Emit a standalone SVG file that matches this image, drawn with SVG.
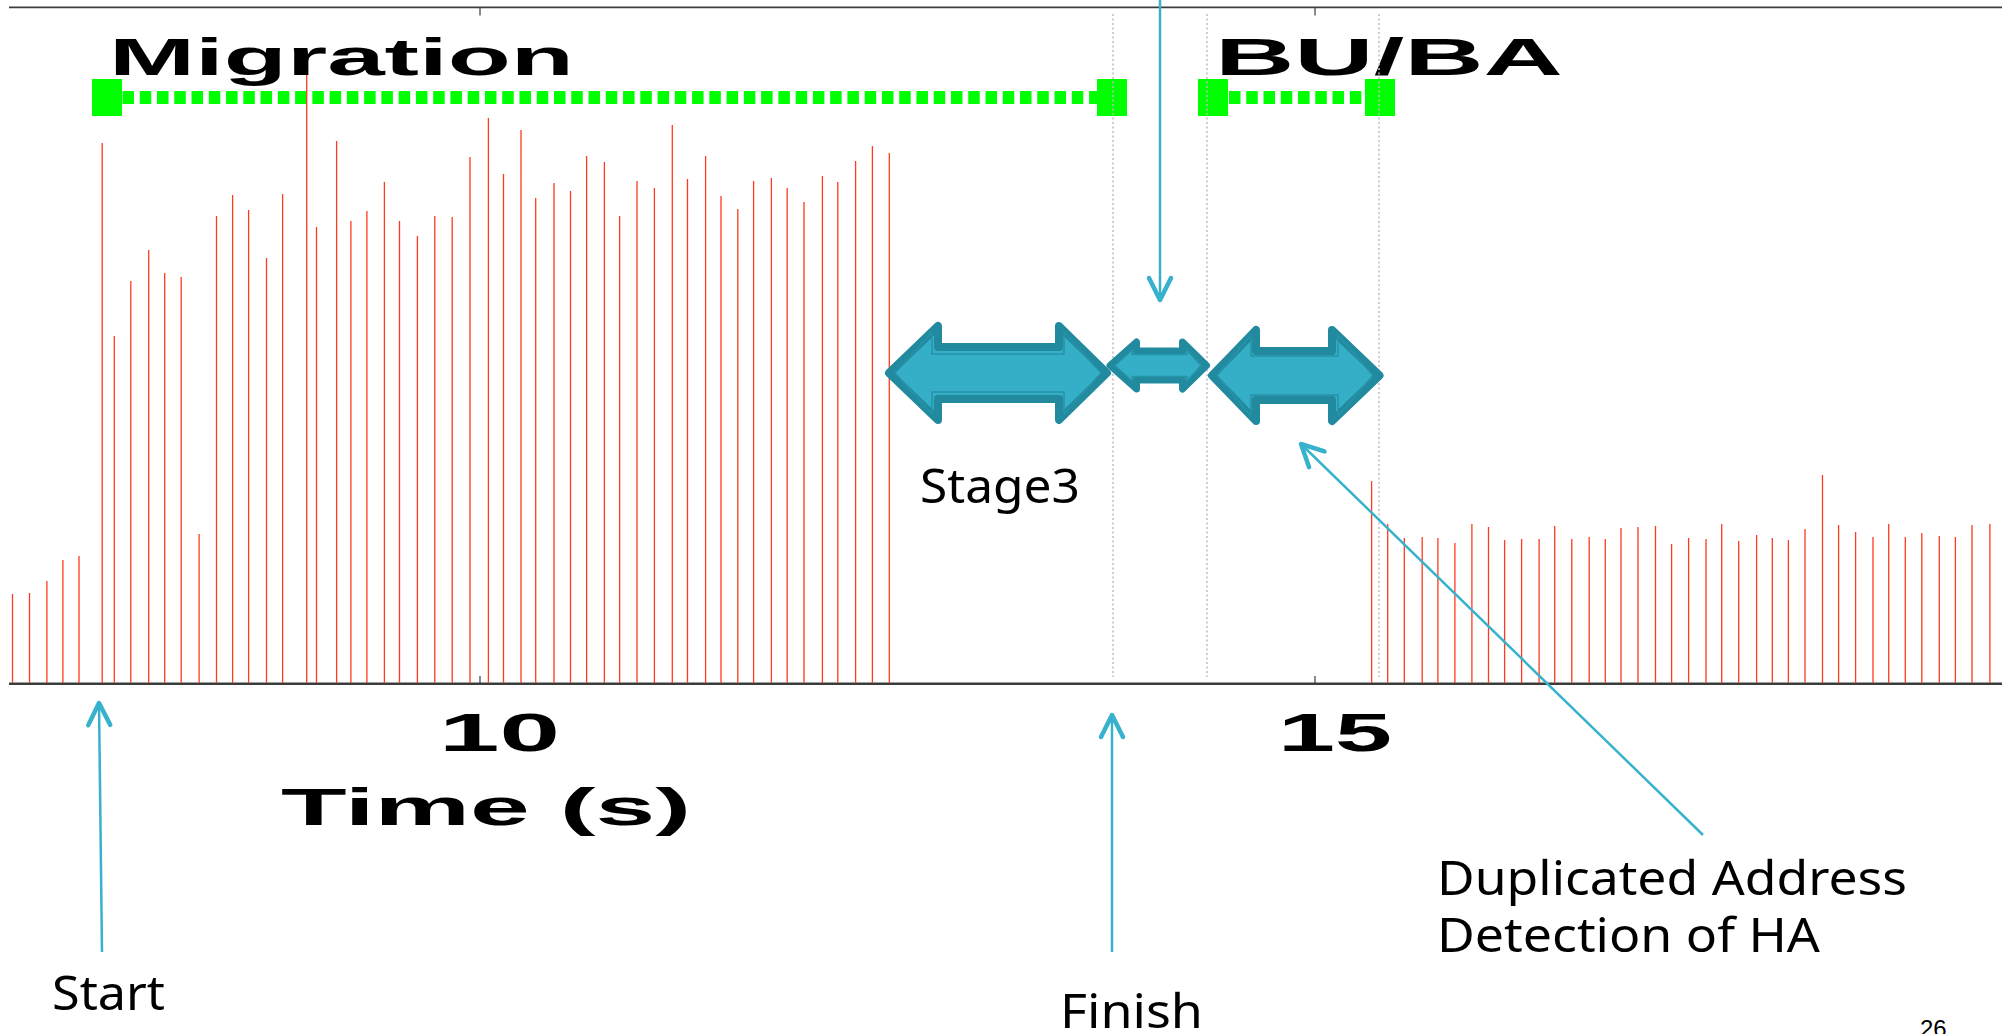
<svg xmlns="http://www.w3.org/2000/svg" width="2002" height="1034" viewBox="0 0 2002 1034">
<defs>
<style>
.mat{font-family:"Liberation Sans",Arial,sans-serif;font-weight:bold;fill:#000}
.lbl{font-family:"Noto Sans","Open Sans",sans-serif;fill:#000;font-size:48px}
.bars{stroke:#ff3b1e;stroke-width:1.3;fill:none}
.grn{stroke:#00ff00;stroke-width:13;stroke-dasharray:11.5 5.76;fill:none}
.mk{fill:#00ff00}
.grid{stroke:#bdbdbd;stroke-width:1.5;stroke-dasharray:2 2.5;fill:none}
.ax{stroke:#3c3c3c;fill:none}
.dbl{fill:#35afc8;stroke:#228a9e;stroke-linejoin:round}
.bev{fill:none;stroke:#2793a8;stroke-width:1.5;stroke-linejoin:round}
.conn{stroke:#38b2cc;stroke-width:2.5;fill:none;marker-end:url(#ah)}
</style>
<marker id="ah" markerUnits="userSpaceOnUse" viewBox="-26 -15 30 30" markerWidth="30" markerHeight="30" refX="0" refY="0" orient="auto" overflow="visible">
<path d="M-22,-11 L0,0 L-22,11" fill="none" stroke="#38b2cc" stroke-width="4.5" stroke-linecap="round" stroke-linejoin="round"/>
</marker>
</defs>
<rect width="2002" height="1034" fill="#fff"/>

<g id="axes">
<path class="ax" stroke-width="1.8" d="M9,7.3 H2002"/>
<path class="ax" stroke-width="1.2" d="M480,7 V15.5 M1315,7 V15.5 M480,683 V676 M1315,683 V676"/>
<path class="ax" stroke-width="2.6" d="M9,683.7 H2002"/>
</g>

<g id="migration-bar">
<path class="grn" d="M122.5,97.5 H1097"/>
<rect class="mk" x="92" y="79" width="30" height="37"/>
<rect class="mk" x="1097" y="79" width="30" height="37"/>
</g>
<g id="buba-bar">
<path class="grn" d="M1229,97.5 H1365"/>
<rect class="mk" x="1198" y="79" width="30" height="37"/>
<rect class="mk" x="1365" y="79" width="30" height="37"/>
</g>

<g id="samples">
<path class="bars" d="M12.5,683V594 M29.5,683V593 M46.9,683V581 M62.9,683V560 M79,683V556 M102.2,683V143 M114.3,683V336 M130.8,683V281 M148.7,683V250 M164.7,683V273 M181.2,683V277 M199.1,683V534 M216.5,683V216 M232.6,683V195 M248.6,683V210 M266.5,683V258 M282.6,683V194 M306.7,683V72 M316.5,683V227 M336.6,683V141 M350.9,683V221 M366.9,683V211 M384.4,683V182 M399.5,683V221 M417.4,683V236 M434.8,683V216 M452.2,683V217 M470,683V157 M488.4,683V118 M503.5,683V174 M521,683V130 M535.7,683V198 M554,683V183 M570.5,683V191 M586.6,683V156 M604.4,683V162 M619.6,683V216 M637,683V181 M654.4,683V188 M672.3,683V125 M687.5,683V179 M705.6,683V156 M721,683V196 M737.8,683V209 M753.6,683V181 M771.4,683V178 M787.2,683V188 M804,683V202 M822.4,683V176 M837.8,683V182 M855.6,683V161 M872.4,683V146 M889.3,683V153"/>
<path class="bars" d="M1371.6,683V481 M1387.7,683V524 M1404.3,683V538 M1422.2,683V537 M1437.9,683V538 M1454.9,683V543 M1471.9,683V524 M1488.5,683V527 M1504.6,683V540 M1521.6,683V539 M1539.1,683V539 M1554.7,683V526 M1571.8,683V539 M1589.2,683V537 M1605.3,683V539 M1621,683V528 M1638,683V527 M1655.5,683V526 M1671.6,683V544 M1688.6,683V538 M1706,683V539 M1721.7,683V524 M1738.7,683V541 M1756.6,683V535 M1772.3,683V538 M1788.4,683V540 M1805,683V529 M1822.5,683V475 M1838.6,683V525 M1855.6,683V532 M1873,683V537 M1888.7,683V524 M1905.3,683V537 M1921.8,683V533 M1939.3,683V536 M1955.4,683V537 M1972,683V525 M1989.9,683V524"/>
</g>

<g id="title-migration"><text class="mat" x="109" y="75" font-size="52" textLength="465" lengthAdjust="spacingAndGlyphs">Migration</text></g>
<g id="title-buba"><text class="mat" x="1215" y="75" font-size="52" textLength="348" lengthAdjust="spacingAndGlyphs">BU/BA</text></g>
<g id="tick-10"><text class="mat" x="439" y="751" font-size="53" textLength="121" lengthAdjust="spacingAndGlyphs">10</text></g>
<g id="tick-15"><text class="mat" x="1278" y="751" font-size="53" textLength="114" lengthAdjust="spacingAndGlyphs">15</text></g>
<g id="xlabel"><text class="mat" x="281" y="825" font-size="52" textLength="410" lengthAdjust="spacingAndGlyphs">Time (s)</text></g>

<g id="gridlines">
<path class="grid" d="M1113,14 V677 M1207,14 V677 M1379,14 V677"/>
</g>

<g id="stage-a">
<path class="dbl" stroke-width="8" d="M889,373 L938,326 L938,347 L1059,347 L1059,326 L1107,373 L1059,420 L1059,399 L938,399 L938,420 Z"/>
<path class="bev" d="M895,373 L932,332 L932,354 L1064,354 L1064,332 L1101,373 L1064,414 L1064,392 L932,392 L932,414 Z"/>
</g>
<g id="stage-b">
<path class="dbl" stroke-width="7" d="M1110,365.5 L1136.5,342 L1136.5,351 L1182.5,351 L1182.5,342 L1206.5,365.5 L1182.5,389 L1182.5,380 L1136.5,380 L1136.5,389 Z"/>
<path class="bev" d="M1115,365.5 L1132,350 L1132,354.5 L1187,354.5 L1187,350 L1201,365.5 L1187,381 L1187,376.5 L1132,376.5 L1132,381 Z"/>
</g>
<g id="stage-c">
<path class="dbl" stroke-width="8" d="M1212,375.5 L1256,330 L1256,351 L1332,351 L1332,330 L1379.5,375.5 L1332,421 L1332,400 L1256,400 L1256,421 Z"/>
<path class="bev" d="M1217,375.5 L1251,335 L1251,356 L1338,356 L1338,335 L1373,375.5 L1338,416 L1338,395 L1251,395 L1251,416 Z"/>
</g>

<g id="label-stage3"><text class="lbl" x="920" y="503" textLength="160" lengthAdjust="spacingAndGlyphs">Stage3</text></g>
<g id="label-start"><text class="lbl" x="52" y="1010" textLength="113" lengthAdjust="spacingAndGlyphs">Start</text></g>
<g id="label-finish"><text class="lbl" x="1060" y="1028" textLength="143" lengthAdjust="spacingAndGlyphs">Finish</text></g>
<g id="label-dad"><text class="lbl" x="1437" y="895" textLength="470" lengthAdjust="spacingAndGlyphs">Duplicated Address</text>
<text class="lbl" x="1437" y="952" textLength="383" lengthAdjust="spacingAndGlyphs">Detection of HA</text></g>
<g id="page-number"><text x="1920" y="1037" font-family="Liberation Sans,Arial,sans-serif" font-size="24" fill="#000">26</text></g>

<g id="connectors">
<path class="conn" d="M1160,0 V300"/>
<path class="conn" d="M102,952 L99,703"/>
<path class="conn" d="M1112,952 V715"/>
<path class="conn" d="M1703,835 L1301,444"/>
</g>
</svg>
